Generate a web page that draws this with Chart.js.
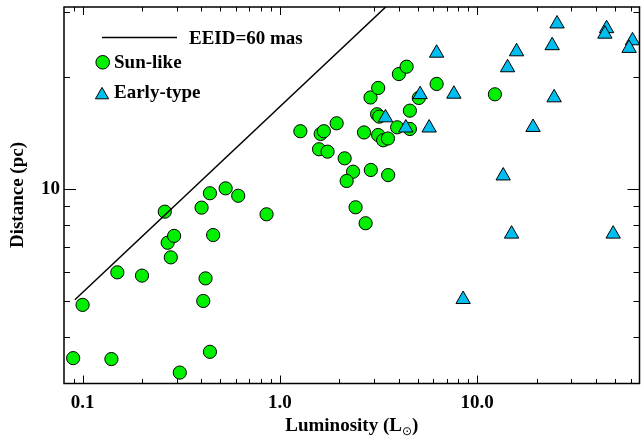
<!DOCTYPE html>
<html>
<head>
<meta charset="utf-8">
<script src="https://cdn.jsdelivr.net/npm/chart.js@4.4.1/dist/chart.umd.min.js"></script>
<style>
  html,body{margin:0;padding:0;background:#fff;}
  canvas{display:block;}
</style>
</head>
<body>
<canvas id="c" width="641" height="437"></canvas>
<script>
// ---- data ----
const sunLum  = [0.0896,0.100,0.140,0.150,0.200,0.261,0.270,0.291,0.280,0.311,0.401,0.442,0.459,0.420,0.409,0.442,0.531,0.615,0.856,
                 1.27,1.61,1.67,1.94,1.58,1.745,2.13,2.35,2.18,2.42,2.72,2.89,3.54,2.67,3.15,3.34,3.53,3.11,3.19,3.93,4.56,4.56,5.06,2.88,3.15,4.01,4.39,6.23,12.30];
const sunDist = [3.51,4.88,3.49,5.97,5.85,8.69,7.17,7.48,6.55,3.21,8.91,9.74,7.52,5.75,5.00,3.65,10.04,9.59,8.55,
                 14.3,14.06,14.3,15.02,12.79,12.60,12.09,11.13,10.51,8.93,8.09,11.25,10.9,14.19,13.97,13.52,13.67,15.88,15.65,14.65,14.5,16.24,17.57,17.62,18.69,20.37,21.32,19.16,17.97];
const earlyLum  = [6.23,5.14,7.62,3.43,4.35,5.71,8.49,13.55,14.94,19.2,14.26,15.84,25.4,24.0,24.55,45.3,44.4,61.3,58.9,48.9];
const earlyDist = [23.2,17.95,18.0,15.55,14.6,14.6,5.05,10.85,7.57,14.65,21.2,23.4,27.8,24.3,17.6,27.0,26.1,25.05,23.9,7.57];
const eeidLum  = [0.0914, 3.44];
const eeidDist = [5.04, 30.85];

const xTickValues = [0.1, 1, 10];
const xTickLabels = ['0.1', '1.0', '10.0'];
const yTickValues = [10];
const yTickLabels = ['10'];
const xMinorTicks = [0.09,0.2,0.3,0.4,0.5,0.6,0.7,0.8,0.9,2,3,4,5,6,7,8,9,20,30,40,50,60];
const yMinorTicks = [4,5,6,7,8,9,20,30];

const seriesNames = ['EEID=60 mas', 'Sun-like', 'Early-type'];
const xTitle = 'Luminosity (L';
const yTitle = 'Distance (pc)';

// ---- styling ----
const SERIF = '"Liberation Serif","Times New Roman",Times,serif';
const FONT = {family: SERIF, weight: 'bold', size: 19};
const GREEN = '#00f000';
const CYAN = '#00bff0';

const zip = (a, b) => a.map((v, i) => ({x: v, y: b[i]}));
const findLabel = (vals, labels, v) => {
  const i = vals.findIndex(t => Math.abs(t - v) / t < 1e-6);
  return i >= 0 ? labels[i] : '';
};
const fitTo = (prop, size) => s => {
  s[prop] = size;
  s.paddingLeft = 0; s.paddingRight = 0; s.paddingTop = 0; s.paddingBottom = 0;
};

const deco = {
  id: 'deco',
  afterDraw(chart) {
    const {ctx, chartArea: a, scales: {x, y}} = chart;
    ctx.save();
    // ticks (inward, all four sides)
    ctx.strokeStyle = '#000';
    ctx.lineWidth = 1;
    ctx.beginPath();
    const xt = (v, len) => {
      const p = Math.round(x.getPixelForValue(v)) + 0.5;
      ctx.moveTo(p, a.bottom); ctx.lineTo(p, a.bottom - len);
      ctx.moveTo(p, a.top); ctx.lineTo(p, a.top + len);
    };
    const yt = (v, len) => {
      const p = Math.round(y.getPixelForValue(v)) + 0.5;
      ctx.moveTo(a.left, p); ctx.lineTo(a.left + len, p);
      ctx.moveTo(a.right, p); ctx.lineTo(a.right - len, p);
    };
    xTickValues.forEach(v => xt(v, 8));
    xMinorTicks.forEach(v => xt(v, 4.5));
    yTickValues.forEach(v => yt(v, 12));
    yMinorTicks.forEach(v => yt(v, 6));
    ctx.stroke();
    // frame
    ctx.lineWidth = 1.5;
    ctx.strokeRect(a.left, a.top, a.right - a.left, a.bottom - a.top);

    // axis titles
    ctx.fillStyle = '#000';
    ctx.font = 'bold 19px ' + SERIF;
    ctx.textBaseline = 'alphabetic';
    ctx.textAlign = 'left';
    const w1 = ctx.measureText(xTitle).width;
    ctx.font = '12px "DejaVu Sans"';
    const w2 = ctx.measureText('\u2299').width;
    ctx.font = 'bold 19px ' + SERIF;
    const w3 = ctx.measureText(')').width;
    const cx = (a.left + a.right) / 2;
    let sx = cx - (w1 + w2 + w3) / 2;
    ctx.fillText(xTitle, sx, 431);
    ctx.font = '12px "DejaVu Sans"';
    ctx.fillText('\u2299', sx + w1, 435);
    ctx.font = 'bold 19px ' + SERIF;
    ctx.fillText(')', sx + w1 + w2, 431);

    ctx.save();
    ctx.translate(23, 195);
    ctx.rotate(-Math.PI / 2);
    ctx.textAlign = 'center';
    ctx.fillText(yTitle, 0, 0);
    ctx.restore();

    // legend
    ctx.lineWidth = 1.5;
    ctx.beginPath();
    ctx.moveTo(102, 37.5); ctx.lineTo(177, 37.5);
    ctx.stroke();
    ctx.textAlign = 'left';
    ctx.fillText(seriesNames[0], 189, 43.5);
    ctx.lineWidth = 1;
    ctx.beginPath();
    ctx.arc(102.7, 62.3, 6.8, 0, Math.PI * 2);
    ctx.fillStyle = GREEN; ctx.fill(); ctx.stroke();
    ctx.fillStyle = '#000';
    ctx.fillText(seriesNames[1], 114, 68.3);
    const r = 7.6, tcx = 102, tcy = 95;
    ctx.beginPath();
    ctx.moveTo(tcx, tcy - r);
    ctx.lineTo(tcx + r * Math.sqrt(3) / 2, tcy + r / 2);
    ctx.lineTo(tcx - r * Math.sqrt(3) / 2, tcy + r / 2);
    ctx.closePath();
    ctx.fillStyle = CYAN; ctx.fill(); ctx.stroke();
    ctx.fillStyle = '#000';
    ctx.fillText(seriesNames[2], 114, 98.3);
    ctx.restore();
  }
};

new Chart(document.getElementById('c'), {
  type: 'scatter',
  data: {
    datasets: [
      {
        label: seriesNames[0],
        data: zip(eeidLum, eeidDist),
        showLine: true,
        borderColor: '#000',
        borderWidth: 1.5,
        pointRadius: 0,
        fill: false
      },
      {
        label: seriesNames[2],
        data: zip(earlyLum, earlyDist),
        pointStyle: 'triangle',
        pointRadius: 8.3,
        backgroundColor: CYAN,
        borderColor: '#000',
        borderWidth: 1
      },
      {
        label: seriesNames[1],
        data: zip(sunLum, sunDist),
        pointStyle: 'circle',
        pointRadius: 6.6,
        backgroundColor: GREEN,
        borderColor: '#000',
        borderWidth: 1
      }
    ]
  },
  options: {
    responsive: false,
    animation: false,
    devicePixelRatio: 1,
    layout: {autoPadding: false, padding: {left: 0, right: 1.5, top: 7, bottom: 0}},
    plugins: {legend: {display: false}, tooltip: {enabled: false}},
    scales: {
      x: {
        type: 'logarithmic',
        position: 'bottom',
        min: 0.0805,
        max: 66.5,
        grid: {display: false, drawTicks: false},
        border: {display: false},
        ticks: {
          autoSkip: false, maxRotation: 0, padding: 8.5,
          color: '#000', font: FONT,
          callback: v => findLabel(xTickValues, xTickLabels, v)
        },
        afterFit: fitTo('height', 53.5)
      },
      y: {
        type: 'logarithmic',
        position: 'left',
        min: 3,
        max: 30.85,
        grid: {display: false, drawTicks: false},
        border: {display: false},
        ticks: {
          autoSkip: false, padding: 4,
          color: '#000', font: FONT,
          callback: v => findLabel(yTickValues, yTickLabels, v)
        },
        afterFit: fitTo('width', 64)
      }
    }
  },
  plugins: [deco]
});
</script>
</body>
</html>
